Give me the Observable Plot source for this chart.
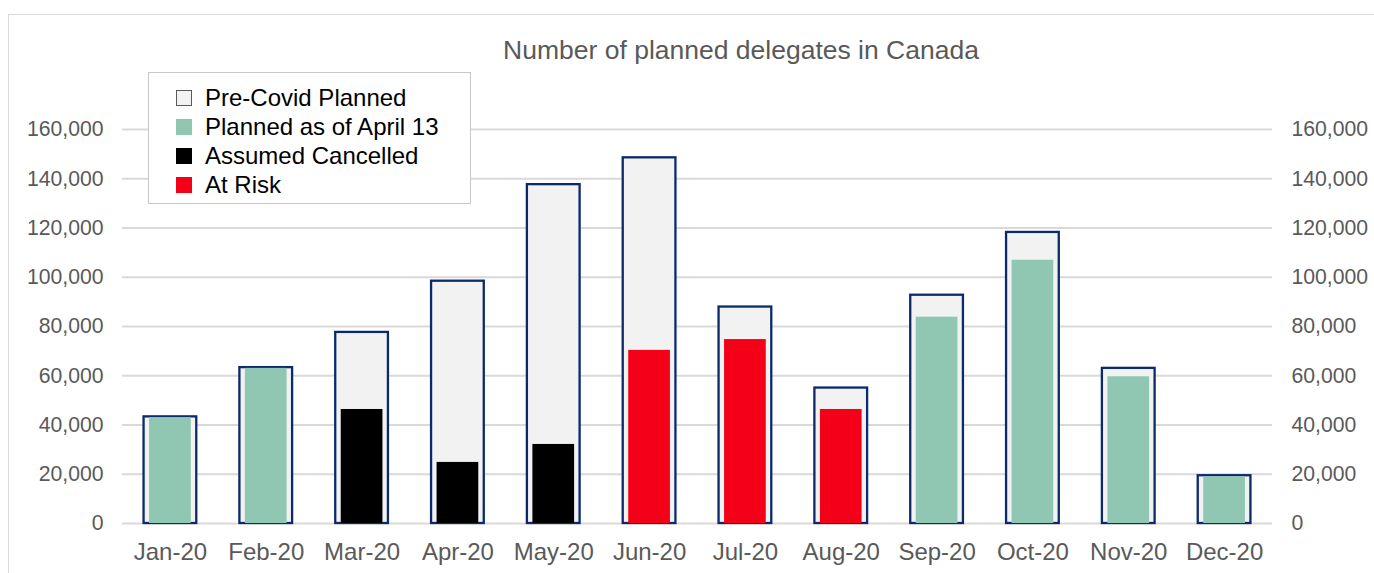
<!DOCTYPE html>
<html><head><meta charset="utf-8">
<script src="https://cdn.jsdelivr.net/npm/d3@7"></script>
<script src="https://cdn.jsdelivr.net/npm/@observablehq/plot@0.6"></script>
<style>
body{margin:0;background:#fff;overflow:hidden;width:1374px;height:573px;position:relative;font-family:"Liberation Sans",Arial,sans-serif}
#frame{position:absolute;left:8px;top:14px;width:1400px;height:600px;border:1px solid #d9d9d9;box-sizing:border-box}
#chart{position:absolute;left:0;top:0}
#title{position:absolute;left:741px;top:35px;transform:translateX(-50%);white-space:nowrap;font-size:26.5px;line-height:30px;color:#595959}
#legend{position:absolute;left:148px;top:72px;width:323px;height:132px;box-sizing:border-box;border:1px solid #c8c8c8;background:#fff;padding-top:10px}
.row{height:29px;display:flex;align-items:center;font-size:24px;color:#000}
.sw{width:16px;height:16px;margin-left:27px;margin-right:13px;box-sizing:border-box}
</style></head>
<body>
<div id="frame"></div>
<div id="chart"></div>
<div id="title">Number of planned delegates in Canada</div>
<div id="legend"></div>
<script>
const months = ["Jan-20","Feb-20","Mar-20","Apr-20","May-20","Jun-20","Jul-20","Aug-20","Sep-20","Oct-20","Nov-20","Dec-20"];
const preCovid = [43300, 63300, 77600, 98400, 137600, 148500, 87900, 55000, 92700, 118200, 63000, 19400];
const innerValue = [43000, 63000, 46300, 24800, 32100, 70300, 74700, 46300, 83800, 106900, 59600, 19000];
const innerStatus = ["Planned as of April 13","Planned as of April 13","Assumed Cancelled","Assumed Cancelled","Assumed Cancelled","At Risk","At Risk","At Risk","Planned as of April 13","Planned as of April 13","Planned as of April 13","Planned as of April 13"];
const seriesNames = ["Pre-Covid Planned","Planned as of April 13","Assumed Cancelled","At Risk"];
const yTicks = [0,20000,40000,60000,80000,100000,120000,140000,160000];

const palette = {"Pre-Covid Planned":"#f2f2f2","Planned as of April 13":"#8fc7b3","Assumed Cancelled":"#000000","At Risk":"#f50019"};

const outer = months.map((m,i)=>({month:m, value:preCovid[i]}));
const inner = months.map((m,i)=>({month:m, value:innerValue[i], status:innerStatus[i]}));

const chart = Plot.plot({
  width:1374, height:573,
  marginLeft:122, marginRight:102, marginTop:129, marginBottom:50,
  style:{fontFamily:'"Liberation Sans",Arial,sans-serif', fontSize:"21.2px", color:"#595959", background:"transparent"},
  x:{domain:months, paddingInner:0.45, paddingOuter:0.225, round:false, label:null},
  y:{domain:[0,160000], label:null},
  color:{domain:seriesNames.slice(1), range:seriesNames.slice(1).map(s=>palette[s])},
  marks:[
    Plot.ruleY(yTicks,{stroke:"#d9d9d9", strokeWidth:2}),
    Plot.barY(outer,{x:"month", y:"value", fill:palette["Pre-Covid Planned"], stroke:"#0b2a6b", strokeWidth:2.3}),
    Plot.barY(inner,{x:"month", y:"value", fill:"status", insetLeft:5.5, insetRight:5.5}),
    Plot.axisY(yTicks,{anchor:"left", tickSize:0, tickPadding:19, tickFormat:d3.format(","), label:null}),
    Plot.axisY(yTicks,{anchor:"right", tickSize:0, tickPadding:19, tickFormat:d3.format(","), label:null}),
    Plot.axisX({tickSize:0, tickPadding:19, fontSize:24, label:null})
  ]
});
document.getElementById("chart").appendChild(chart);

const leg = document.getElementById("legend");
seriesNames.forEach((s,i)=>{
  const r = document.createElement("div"); r.className="row";
  const sw = document.createElement("div"); sw.className="sw";
  sw.style.background = palette[s];
  if (i===0) sw.style.border = "1px solid #595959";
  const t = document.createElement("span"); t.textContent = s;
  r.appendChild(sw); r.appendChild(t); leg.appendChild(r);
});
</script>
</body></html>
